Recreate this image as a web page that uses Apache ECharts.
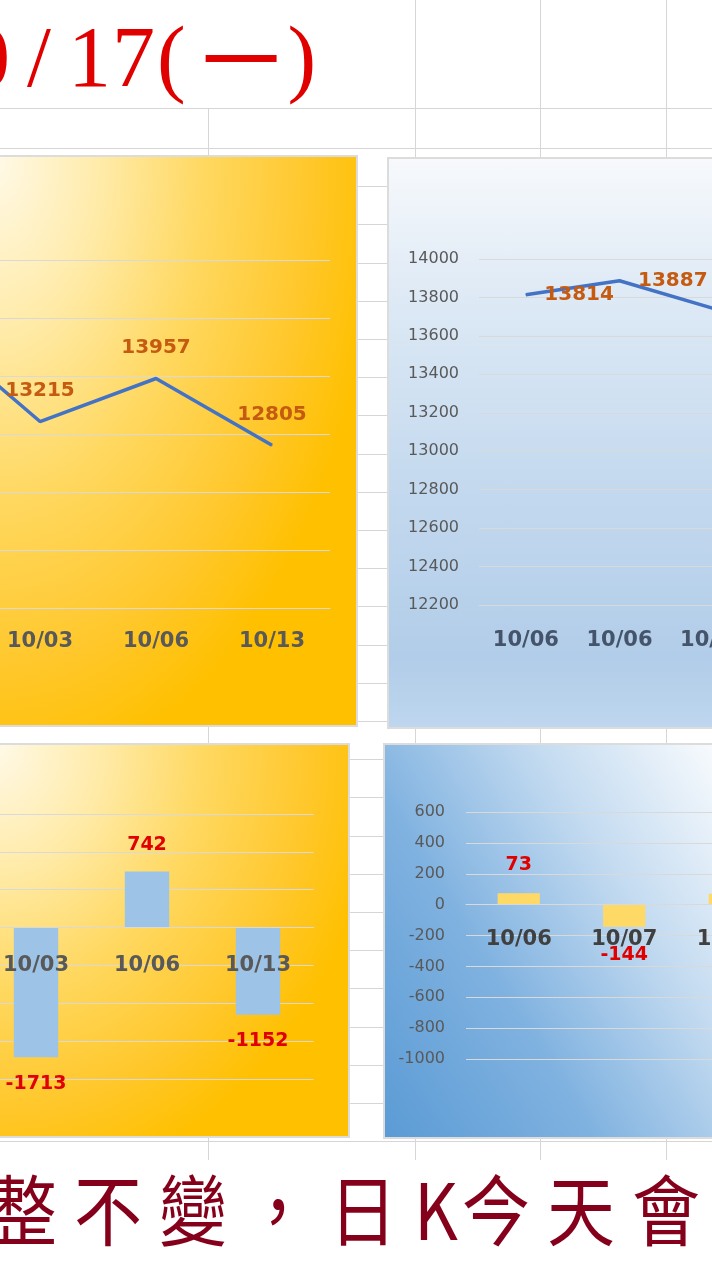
<!DOCTYPE html>
<html>
<head>
<meta charset="utf-8">
<script src="https://cdn.jsdelivr.net/npm/echarts@6/dist/echarts.min.js"></script>
<style>
html, body { margin: 0; padding: 0; width: 712px; height: 1280px; overflow: hidden; background: #fff; position: relative; }
.hl { position: absolute; left: 0; width: 712px; height: 1px; background: #d6d6d6; }
.vl { position: absolute; width: 1px; background: #d6d6d6; }
.panel { position: absolute; box-sizing: border-box; border: 2px solid #dcdcdc; }
.chart { position: absolute; }
#title { position: absolute; left: -33px; top: 14px; font-family: "Liberation Serif", "Noto Sans CJK TC"; font-size: 86px; line-height: 86px; color: #e00000; white-space: nowrap; }
#title span { display: inline-block; }
#note { position: absolute; left: -11px; top: 1168px; font-family: "Noto Sans CJK TC"; font-size: 68px; line-height: 68px; color: #85001a; letter-spacing: 17px; white-space: nowrap; transform: scaleY(1.14); transform-origin: 0 0; }
</style>
</head>
<body>
<div id="sheet"></div>
<div id="title"><span style="margin-right:17px">0</span><span style="margin-right:17px">/</span><span style="margin-right:1px">1</span><span style="margin-right:2px">7</span><span style="margin-right:12px">(</span><span style="position:relative;top:6px;transform:scaleX(0.9);margin-right:4px">一</span><span>)</span></div>

<div class="panel" style="left:-10px;top:155px;width:368px;height:572px;background:radial-gradient(ellipse 410px 660px at 0 0,#fffaea 0%,#ffeaa5 28%,#ffd860 52%,#ffc72a 78%,#ffc000 95%);"></div>
<div class="panel" style="left:387px;top:157px;width:360px;height:572px;background:linear-gradient(180deg,#f7f9fc 0%,#dde9f5 25%,#c2d8ee 60%,#b2cde9 88%,#bed6ee 100%);"></div>
<div class="panel" style="left:-10px;top:743px;width:360px;height:395px;background:radial-gradient(ellipse 410px 470px at 0 0,#fffaea 0%,#ffeaa5 28%,#ffd860 52%,#ffc72a 78%,#ffc000 95%);"></div>
<div class="panel" style="left:383px;top:743px;width:360px;height:396px;background:linear-gradient(58deg,#5b9bd5 0%,#80b2e0 35%,#c2daf0 65%,#f7fafd 95%);"></div>

<div id="c1" class="chart" style="left:-260px;top:155px;width:617px;height:571px;"></div>
<div id="c2" class="chart" style="left:387px;top:157px;width:420px;height:571px;"></div>
<div id="c3" class="chart" style="left:-60px;top:743px;width:409px;height:394px;"></div>
<div id="c4" class="chart" style="left:383px;top:743px;width:420px;height:395px;"></div>

<div id="note">整不變，日<span style="letter-spacing:4px">K</span>今天會</div>

<script>
// 收盤（左上）
var closeDates = ['09/30', '10/03', '10/06', '10/13'];
var closeValues = [14928, 13215, 13957, 12805];
// 右上
var nightDates = ['10/06', '10/06', '10/07'];
var nightValues = [13814, 13887, 13743];
// 漲跌（左下）
var diffDates = ['10/03', '10/06', '10/13'];
var diffValues = [-1713, 742, -1152];
// 漲跌（右下）
var nightDiffDates = ['10/06', '10/07', '10/07'];
var nightDiffValues = [73, -144, 70];

// 試算表格線
var sheet = document.getElementById('sheet');
function addLine(cls, style) {
    var d = document.createElement('div');
    d.className = cls;
    d.setAttribute('style', style);
    sheet.appendChild(d);
}
addLine('hl', 'top:108px');
for (var y = 148; y < 1145; y += 38.2) addLine('hl', 'top:' + Math.round(y) + 'px');
addLine('vl', 'left:208px;top:108px;height:1052px');
[415, 540, 666].forEach(function (x) { addLine('vl', 'left:' + x + 'px;top:0;height:1160px'); });

var FONT = 'DejaVu Sans';
var gridColor = '#d9d9d9';
var plain = function (v) { return String(v); };
var showValue = function (p) { return String(p.value); };

// x 軸移到 0 的位置
function moveAxisToZero(chart, yMin) {
    var zeroY = chart.convertToPixel({ yAxisIndex: 0 }, 0);
    var bottomY = chart.convertToPixel({ yAxisIndex: 0 }, yMin);
    chart.setOption({ xAxis: { offset: zeroY - bottomY } });
}

// 左上：折線
var chart1 = echarts.init(document.getElementById('c1'));
chart1.setOption({
    animation: false,
    grid: { left: 126, right: 27, top: 105, bottom: 118 },
    xAxis: {
        type: 'category',
        data: closeDates,
        axisLine: { lineStyle: { color: gridColor } },
        axisTick: { length: 6, lineStyle: { color: gridColor } },
        axisLabel: { margin: 23, color: '#595959', fontFamily: FONT, fontWeight: 'bold', fontSize: 21 }
    },
    yAxis: {
        type: 'value', min: 10000, max: 16000, interval: 1000,
        axisLabel: { show: false },
        splitLine: { lineStyle: { color: gridColor } }
    },
    series: [{
        type: 'line',
        data: closeValues,
        symbol: 'circle', symbolSize: 1,
        lineStyle: { color: '#4472c4', width: 3.5 },
        itemStyle: { color: '#4472c4' },
        label: { show: true, position: 'top', distance: 20, formatter: showValue,
                 color: '#c55a11', fontFamily: FONT, fontWeight: 'bold', fontSize: 20 }
    }]
});

// 右上：折線
var chart2 = echarts.init(document.getElementById('c2'));
chart2.setOption({
    animation: false,
    grid: { left: 92, right: 47, top: 102, bottom: 123 },
    xAxis: {
        type: 'category',
        data: nightDates,
        axisLine: { lineStyle: { color: gridColor } },
        axisTick: { length: 6, lineStyle: { color: gridColor } },
        axisLabel: { margin: 25, color: '#44546a', fontFamily: FONT, fontWeight: 'bold', fontSize: 21 }
    },
    yAxis: {
        type: 'value', min: 12200, max: 14000, interval: 200,
        axisLabel: { margin: 20, formatter: plain, color: '#595959', fontFamily: FONT, fontSize: 16 },
        splitLine: { lineStyle: { color: gridColor } }
    },
    series: [{
        type: 'line',
        data: nightValues,
        symbol: 'circle', symbolSize: 1,
        lineStyle: { color: '#4472c4', width: 3.5 },
        itemStyle: { color: '#4472c4' },
        label: { show: true, position: 'right', distance: 18, formatter: showValue,
                 color: '#c55a11', fontFamily: FONT, fontWeight: 'bold', fontSize: 20 }
    }]
});

// 左下：柱狀
var chart3 = echarts.init(document.getElementById('c3'));
chart3.setOption({
    animation: false,
    grid: { left: 40.5, right: 35.5, top: 71, bottom: 58 },
    xAxis: {
        type: 'category',
        data: diffDates,
        z: 3,
        axisLine: { onZero: false, lineStyle: { color: gridColor } },
        axisTick: { length: 6, lineStyle: { color: gridColor } },
        axisLabel: { margin: 27, color: '#595959', fontFamily: FONT, fontWeight: 'bold', fontSize: 21 }
    },
    yAxis: {
        type: 'value', min: -2000, max: 1500, interval: 500,
        axisLabel: { show: false },
        splitLine: { lineStyle: { color: gridColor } }
    },
    series: [{
        type: 'bar',
        data: diffValues,
        barWidth: '40%',
        itemStyle: { color: '#9dc3e6' },
        label: { show: true, position: 'outside', distance: 17, formatter: showValue,
                 color: '#e00000', fontFamily: FONT, fontWeight: 'bold', fontSize: 19 }
    }]
});
moveAxisToZero(chart3, -2000);

// 右下：柱狀
var chart4 = echarts.init(document.getElementById('c4'));
chart4.setOption({
    animation: false,
    grid: { left: 83, right: 20.5, top: 69, bottom: 79 },
    xAxis: {
        type: 'category',
        data: nightDiffDates,
        z: 3,
        axisLine: { onZero: false, lineStyle: { color: gridColor } },
        axisTick: { length: 6, lineStyle: { color: gridColor } },
        axisLabel: { margin: 24, color: '#404040', fontFamily: FONT, fontWeight: 'bold', fontSize: 21 }
    },
    yAxis: {
        type: 'value', min: -1000, max: 600, interval: 200,
        axisLabel: { margin: 21, formatter: plain, color: '#595959', fontFamily: FONT, fontSize: 16 },
        splitLine: { lineStyle: { color: gridColor } }
    },
    series: [{
        type: 'bar',
        data: nightDiffValues,
        barWidth: '40%',
        itemStyle: { color: '#ffd966' },
        label: { show: true, position: 'outside', distance: 19, formatter: showValue,
                 color: '#e00000', fontFamily: FONT, fontWeight: 'bold', fontSize: 19 }
    }]
});
moveAxisToZero(chart4, -1000);
</script>
</body>
</html>
